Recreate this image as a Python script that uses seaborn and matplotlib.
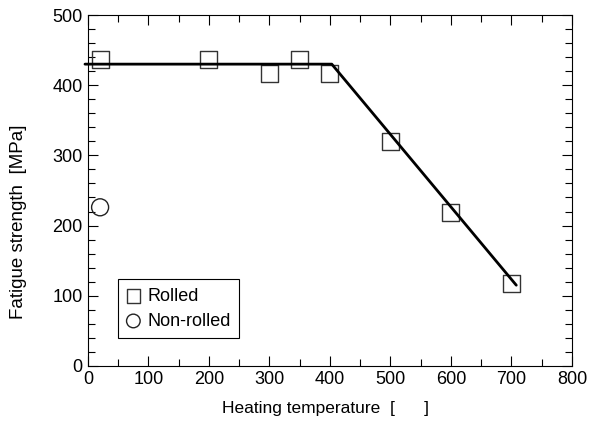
import pandas as pd
import seaborn as sns
import matplotlib.pyplot as plt
from matplotlib.ticker import MultipleLocator

# Values
rolled_temp = [20, 200, 300, 350, 400, 500, 600, 700]
rolled_strength = [437, 437, 417, 437, 417, 320, 219, 117]
nonrolled_temp = [20]
nonrolled_strength = [226]
fit_temp = [-5, 403, 708]
fit_strength = [430, 430, 115]

rolled = pd.DataFrame({"temp": rolled_temp, "strength": rolled_strength})
nonrolled = pd.DataFrame({"temp": nonrolled_temp, "strength": nonrolled_strength})
fit = pd.DataFrame({"temp": fit_temp, "strength": fit_strength})

sns.set_style("ticks")
plt.rcParams["font.family"] = ["Liberation Sans", "DejaVu Sans"]
plt.rcParams["xtick.direction"] = "in"
plt.rcParams["ytick.direction"] = "in"
plt.rcParams["text.color"] = "black"
plt.rcParams["axes.labelcolor"] = "black"
plt.rcParams["xtick.labelcolor"] = "black"
plt.rcParams["ytick.labelcolor"] = "black"

fig = plt.figure(figsize=(5.97, 4.23), dpi=100)
ax = fig.add_axes([0.1474, 0.135, 0.8106, 0.8295])

sns.scatterplot(data=rolled, x="temp", y="strength", marker="s", s=150,
                facecolor="none", edgecolor="#333333", linewidth=1.0,
                label="Rolled", ax=ax, zorder=2)
sns.scatterplot(data=nonrolled, x="temp", y="strength", marker="o", s=150,
                facecolor="none", edgecolor="#222222", linewidth=1.0,
                label="Non-rolled", ax=ax, zorder=2)
sns.lineplot(data=fit, x="temp", y="strength", color="black", linewidth=2.0,
             sort=False, estimator=None, ax=ax, zorder=3, clip_on=False)

ax.set_xlim(0, 800)
ax.set_ylim(0, 500)
ax.xaxis.set_major_locator(MultipleLocator(100))
ax.xaxis.set_minor_locator(MultipleLocator(50))
ax.yaxis.set_major_locator(MultipleLocator(100))
ax.yaxis.set_minor_locator(MultipleLocator(20))
ax.tick_params(which="both", top=True, right=True, labelsize=13, color="black")
ax.tick_params(which="major", length=7, width=0.8, pad=4)
ax.tick_params(which="minor", length=5, width=0.8)
for s in ax.spines.values():
    s.set_color("black")
    s.set_linewidth(0.8)

ax.set_xlabel("Heating temperature  [      ]", fontsize=12.5)
ax.xaxis.set_label_coords(0.49, -0.1)
ax.set_ylabel("Fatigue strength  [MPa]", fontsize=13.5)
ax.yaxis.set_label_coords(-0.126, 0.41)

leg = ax.legend(loc="lower left", bbox_to_anchor=(0.062, 0.08), borderaxespad=0,
                fancybox=False, edgecolor="black", framealpha=1, fontsize=13,
                handlelength=0.8, handletextpad=0.4, borderpad=0.45,
                labelspacing=0.45, markerscale=0.8)
leg.get_frame().set_linewidth(0.8)

fig.savefig("out.png", dpi=100)
